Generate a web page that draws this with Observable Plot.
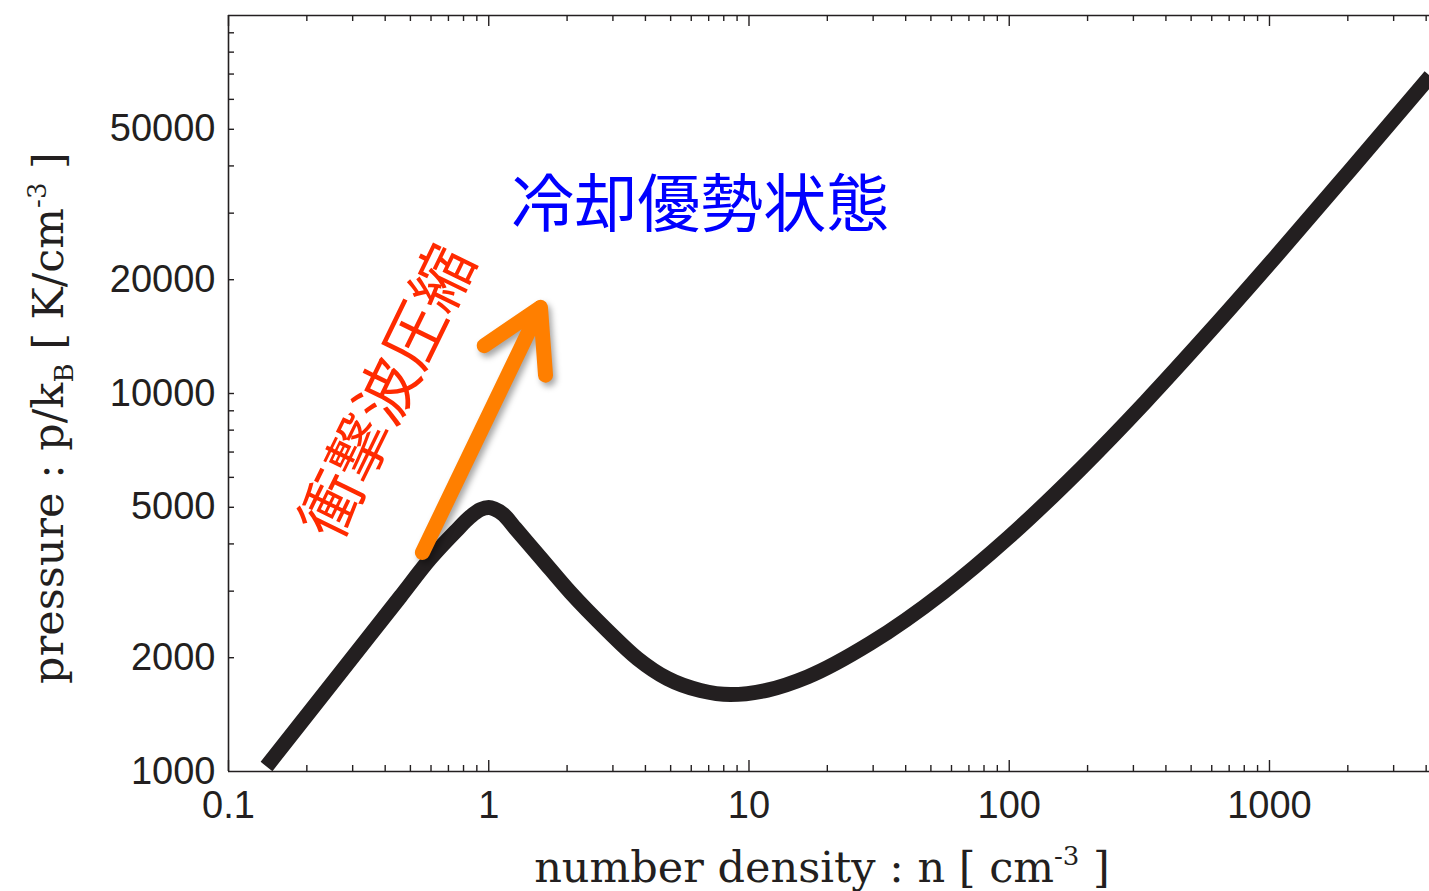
<!DOCTYPE html>
<html><head><meta charset="utf-8">
<script src="https://cdn.jsdelivr.net/npm/d3@7"></script>
<script src="https://cdn.jsdelivr.net/npm/@observablehq/plot@0.6"></script>
<style>html,body{margin:0;padding:0;background:#fff;overflow:hidden}</style>
</head><body><div id="chart"></div>
<script>
// thermal-equilibrium curve
const density  = [0.140, 0.253, 0.458, 0.597, 0.745, 0.851, 0.930, 1.00, 1.052, 1.139, 1.267, 1.580, 2.061, 2.86, 3.73, 4.86, 6.51, 8.49, 11.78, 16.8, 29.3, 55.9, 99.3, 187.8, 333.9, 593.3, 1055, 2047, 4150];
const pressure = [1031, 1730, 2904, 3661, 4314, 4727, 4933, 4990, 4948, 4786, 4394, 3682, 2975, 2360, 1990, 1762, 1638, 1598, 1642, 1780, 2185, 2983, 4159, 6310, 9506, 14670, 22990, 39070, 69150];

const xTickLabels = [0.1, 1, 10, 100, 1000];
const xMajorTicks = [0.1, 1, 10, 100, 1000];
const xMinorTicks = [0.2,0.3,0.4,0.5,0.6,0.7,0.8,0.9, 2,3,4,5,6,7,8,9, 20,30,40,50,60,70,80,90, 200,300,400,500,600,700,800,900, 2000,3000,4000];
const yTickLabels = [1000, 2000, 5000, 10000, 20000, 50000];
const yTicks = [2000,3000,4000,5000,6000,7000,8000,9000,10000,20000,30000,40000,50000,60000,70000,80000,90000];

const annotationLabels = ["冷却優勢状態", "衝撃波圧縮"];
const annotationN = [6.5, 0.415];
const annotationP = [31400, 10060];
const arrowN = [0.556, 1.58];
const arrowP = [3797, 16900];

const curve = density.map((n, i) => ({n, p: pressure[i]}));
const ink = "#231f20";
const W = 1429, H = 891, mL = 228, mR = 0, mT = 15, mB = 120;
const innerW = W - mL - mR, innerH = H - mT - mB;

const plot = Plot.plot({
  width: W, height: H,
  marginLeft: mL, marginRight: mR, marginTop: mT, marginBottom: mB,
  style: {background: "white", overflow: "hidden"},
  x: {type: "log", domain: [0.1, 4120], axis: null},
  y: {type: "log", domain: [1000, 100000], axis: null},
  marks: [
    Plot.ruleX([0.1], {stroke: ink, strokeWidth: 1.6}),
    Plot.ruleY([1000], {stroke: ink, strokeWidth: 1.6}),
    Plot.ruleY([100000], {stroke: ink, strokeWidth: 1.6}),
    Plot.tickX(xMajorTicks, {x: d => d, insetTop: innerH - 11, stroke: ink, strokeWidth: 1.4}),
    Plot.tickX(xMinorTicks, {x: d => d, insetTop: innerH - 6, stroke: ink, strokeWidth: 1.4}),
    Plot.tickX(xMajorTicks, {x: d => d, insetBottom: innerH - 11, stroke: ink, strokeWidth: 1.4}),
    Plot.tickX(xMinorTicks, {x: d => d, insetBottom: innerH - 6, stroke: ink, strokeWidth: 1.4}),
    Plot.tickY(yTicks, {y: d => d, insetRight: innerW - 6, stroke: ink, strokeWidth: 1.4}),
    Plot.text(xTickLabels, {x: d => d, text: d => String(d), frameAnchor: "bottom", lineAnchor: "middle", dy: 34,
      fontSize: 38, fontFamily: "Liberation Sans, Arial, sans-serif", fill: ink}),
    Plot.text(yTickLabels, {y: d => d, text: d => String(d), frameAnchor: "left", lineAnchor: "middle", textAnchor: "end", dx: -13,
      fontSize: 38, fontFamily: "Liberation Sans, Arial, sans-serif", fill: ink}),
    Plot.line(curve, {x: "n", y: "p", stroke: ink, strokeWidth: 15, curve: "monotone-x",
      strokeLinecap: "butt", strokeLinejoin: "round"}),
    Plot.arrow([0], {x1: () => arrowN[0], y1: () => arrowP[0], x2: () => arrowN[1], y2: () => arrowP[1],
      stroke: "#ff7f00", strokeWidth: 15, headLength: 6.8, headAngle: 60,
      strokeLinecap: "round", strokeLinejoin: "miter",
      imageFilter: "drop-shadow(3px 4px 3px rgba(0,0,0,0.35))"}),
    Plot.text([annotationLabels[0]], {x: () => annotationN[0], y: () => annotationP[0], text: d => d,
      fill: "#0000ff", fontSize: 63, fontFamily: "Noto Sans CJK JP", textAnchor: "middle"}),
    Plot.text([annotationLabels[1]], {x: () => annotationN[1], y: () => annotationP[1], text: d => d,
      fill: "#ff2a00", fontSize: 63, fontFamily: "Noto Sans CJK JP", textAnchor: "middle", rotate: -64})
  ]
});

document.getElementById("chart").appendChild(plot);

// axis titles with super/subscripts
const svg = d3.select(plot);
const serif = "DejaVu Serif, Liberation Serif, serif";
const xl = svg.append("text")
  .attr("x", 822).attr("y", 882).attr("text-anchor", "middle")
  .attr("font-family", serif).attr("font-size", 43).attr("fill", ink);
xl.append("tspan").text("number density : n [ cm");
xl.append("tspan").attr("font-size", 26).attr("dy", -17).text("-3");
xl.append("tspan").attr("dy", 17).text(" ]");

const yl = svg.append("text")
  .attr("transform", "translate(63,418) rotate(-90)").attr("text-anchor", "middle")
  .attr("font-family", serif).attr("font-size", 43).attr("fill", ink);
yl.append("tspan").text("pressure : p/k");
yl.append("tspan").attr("font-size", 26).attr("dy", 10).text("B");
yl.append("tspan").attr("dy", -10).text(" [ K/cm");
yl.append("tspan").attr("font-size", 26).attr("dy", -17).text("-3");
yl.append("tspan").attr("dy", 17).text(" ]");
</script>
</body></html>
